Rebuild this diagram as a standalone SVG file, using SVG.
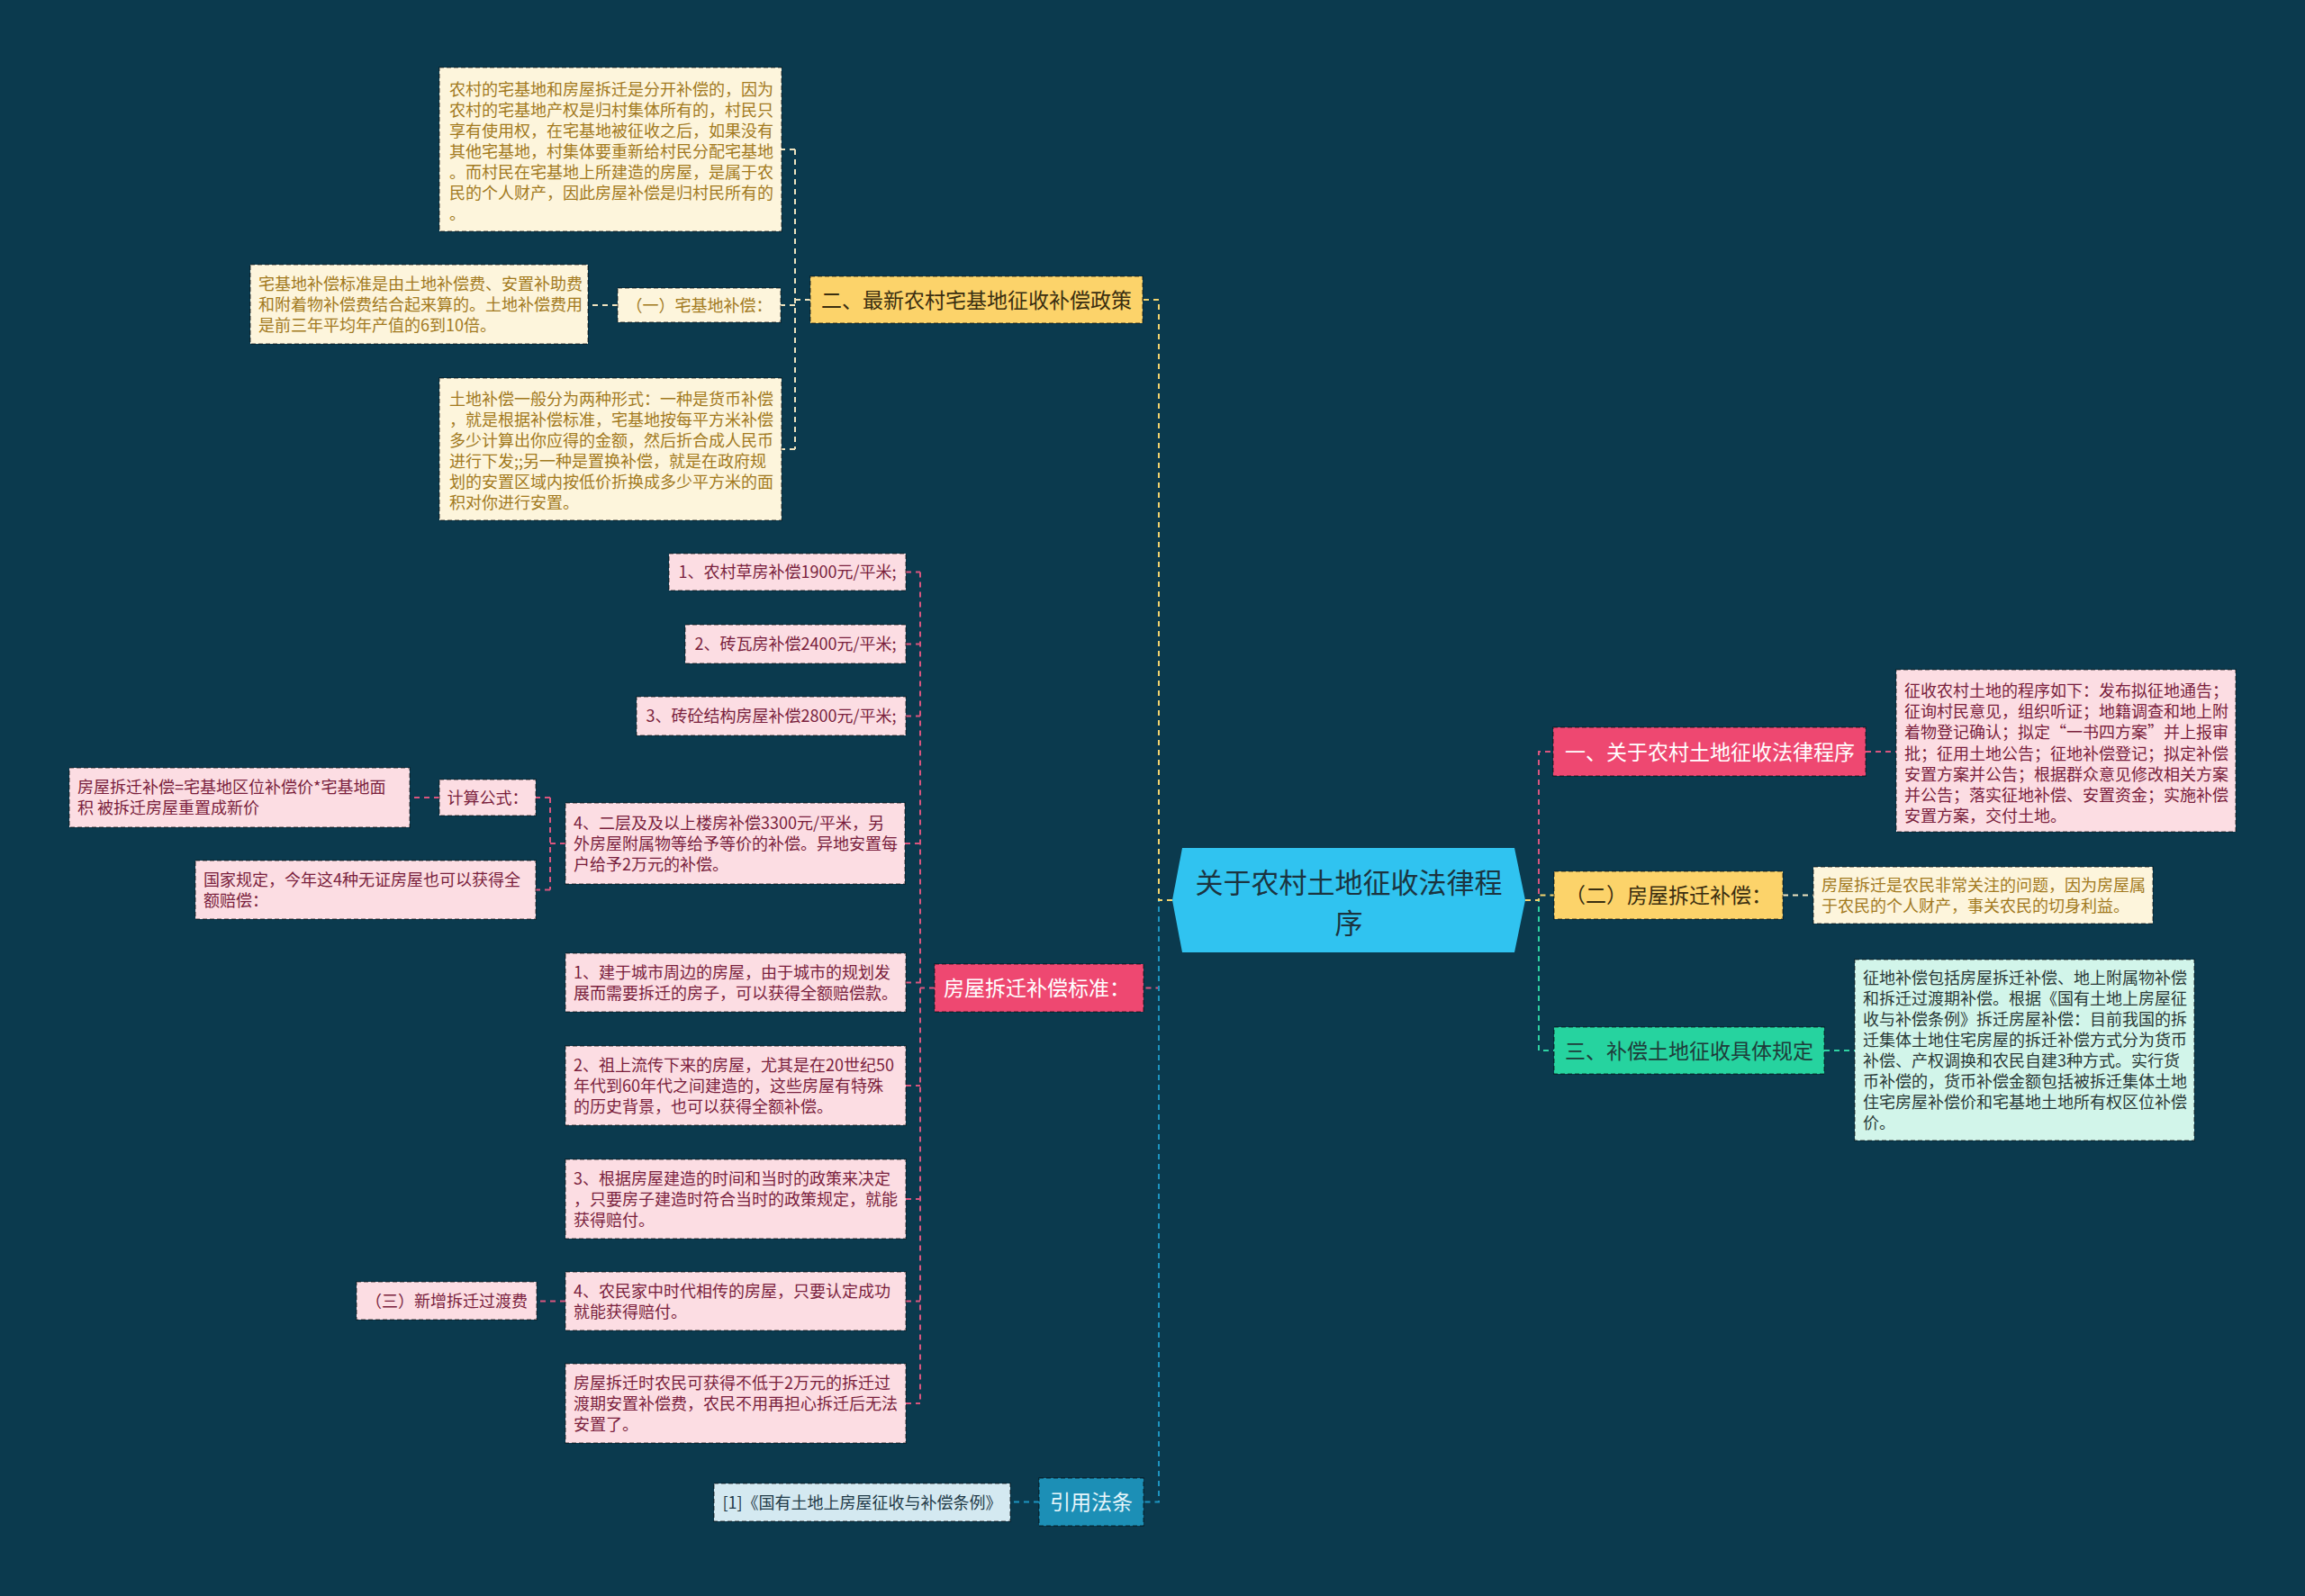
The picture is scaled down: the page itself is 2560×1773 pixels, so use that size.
<svg xmlns="http://www.w3.org/2000/svg" width="2560" height="1773" viewBox="0 0 2560 1773">
<style>
text{font-family:'Noto Sans CJK SC','Noto Sans',sans-serif}
.s{font-size:18px}
.b{font-size:23px}
.nd{stroke:rgba(0,0,0,0.45);stroke-width:1.5;stroke-dasharray:5 3}
.cr{fill:#fdf5dc}.crt{fill:#a27a1e}
.pk{fill:#fcdde3}.pkt{fill:#7a1f3d}
.mn{fill:#d2f5ea}.mnt{fill:#2a3a38}
.lb{fill:#d4e9f1}.lbt{fill:#1f3a48}
.by{fill:#fcd36a}.byt{fill:#3a2e10}
.br{fill:#ee4871}.brt{fill:#ffffff}
.bt{fill:#26d39f}.btt{fill:#1e3c3a}
.bb{fill:#1c8fb6}.bbt{fill:#e6f6fb}
.c{fill:none;stroke-width:2;stroke-dasharray:6 5}
.cy{stroke:#f3d36e}.cp{stroke:#d9557e}.cb{stroke:#1d93bf}.ct{stroke:#2fd3a3}.cc{stroke:#efe3bf}
</style>
<rect width="2560" height="1773" fill="#0b3a4e"/>

<g id="connectors">
  <path class="c cp" d="M1302 1000 H1287 V1097.5 H1270"/>
  <path class="c cb" d="M1302 1000 H1287 V1668.5 H1270"/>
  <path class="c cy" d="M1302 1000 H1287 V333 H1269"/>
  <path class="c cp" d="M1694 1000 H1709 V835 H1725"/>
  <path class="c ct" d="M1694 1000 H1709 V1167 H1726"/>
  <path class="c cy" d="M1694 1000 H1709 V994.5 H1726"/>
  <path class="c cp" d="M2072 835 H2106"/>
  <path class="c cc" d="M1980 994.5 H2014"/>
  <path class="c ct" d="M2026 1167 H2060"/>
  <path class="c cc" d="M900 333 H883 M883 166 V499 M883 166 H868 M883 339 H867 M883 499 H868"/>
  <path class="c cc" d="M686 339 H653"/>
  <path class="c cp" d="M1038 1097.5 H1022 M1022 635.5 V1559 M1006 635.5 H1022 M1006 715.5 H1022 M1006 795.5 H1022 M1005 937 H1022 M1006 1091.5 H1022 M1006 1206 H1022 M1006 1332 H1022 M1006 1445.5 H1022 M1006 1559 H1022"/>
  <path class="c cp" d="M628 937 H611 M611 886 V988.5 M611 886 H595 M611 988.5 H595"/>
  <path class="c cp" d="M488 886 H455"/>
  <path class="c cp" d="M628 1445.5 H596"/>
  <path class="c cb" d="M1154 1668.5 H1122"/>
</g>

<g id="center">
  <polygon points="1313,942 1682,942 1694,1000 1682,1058 1313,1058 1302,1000" fill="#30c3f0"/>
  <text x="1498" y="991.5" font-size="31" fill="#1b3440" text-anchor="middle">关于农村土地征收法律程</text>
  <text x="1498" y="1036.5" font-size="31" fill="#1b3440" text-anchor="middle">序</text>
</g>

<g id="b2">
  <rect class="by nd" x="900" y="307" width="369" height="52"/>
  <text class="b byt" x="1084.5" y="341.5" text-anchor="middle">二、最新农村宅基地征收补偿政策</text>
</g>
<g id="b2-top">
  <rect class="cr nd" x="488" y="75" width="380" height="182"/>
  <text class="s crt" x="499" y="106">
    <tspan x="499">农村的宅基地和房屋拆迁是分开补偿的，因为</tspan>
    <tspan x="499" dy="23">农村的宅基地产权是归村集体所有的，村民只</tspan>
    <tspan x="499" dy="23">享有使用权，在宅基地被征收之后，如果没有</tspan>
    <tspan x="499" dy="23">其他宅基地，村集体要重新给村民分配宅基地</tspan>
    <tspan x="499" dy="23">。而村民在宅基地上所建造的房屋，是属于农</tspan>
    <tspan x="499" dy="23">民的个人财产，因此房屋补偿是归村民所有的</tspan>
    <tspan x="499" dy="23">。</tspan>
  </text>
</g>
<g id="b2-yi">
  <rect class="cr nd" x="686" y="320" width="181" height="38"/>
  <text class="s crt" x="776.5" y="345.5" text-anchor="middle">（一）宅基地补偿：</text>
</g>
<g id="b2-yi-std">
  <rect class="cr nd" x="278" y="294" width="375" height="88"/>
  <text class="s crt" x="287" y="321.5">
    <tspan x="287">宅基地补偿标准是由土地补偿费、安置补助费</tspan>
    <tspan x="287" dy="23">和附着物补偿费结合起来算的。土地补偿费用</tspan>
    <tspan x="287" dy="23">是前三年平均年产值的6到10倍。</tspan>
  </text>
</g>
<g id="b2-bottom">
  <rect class="cr nd" x="488" y="420" width="380" height="158"/>
  <text class="s crt" x="499" y="449.5">
    <tspan x="499">土地补偿一般分为两种形式：一种是货币补偿</tspan>
    <tspan x="499" dy="23">，就是根据补偿标准，宅基地按每平方米补偿</tspan>
    <tspan x="499" dy="23">多少计算出你应得的金额，然后折合成人民币</tspan>
    <tspan x="499" dy="23">进行下发;;另一种是置换补偿，就是在政府规</tspan>
    <tspan x="499" dy="23">划的安置区域内按低价折换成多少平方米的面</tspan>
    <tspan x="499" dy="23">积对你进行安置。</tspan>
  </text>
</g>

<g id="bh">
  <rect class="br nd" x="1038" y="1071" width="232" height="53"/>
  <text class="b brt" x="1048" y="1106">房屋拆迁补偿标准：</text>
</g>
<g id="bh-a">
  <rect class="pk nd" x="743" y="615" width="263" height="41"/>
  <text class="s pkt" x="874.5" y="642" text-anchor="middle">1、农村草房补偿1900元/平米;</text>
</g>
<g id="bh-b">
  <rect class="pk nd" x="761" y="694" width="245" height="43"/>
  <text class="s pkt" x="883.5" y="722" text-anchor="middle">2、砖瓦房补偿2400元/平米;</text>
</g>
<g id="bh-c">
  <rect class="pk nd" x="707" y="774" width="299" height="43"/>
  <text class="s pkt" x="856.5" y="802" text-anchor="middle">3、砖砼结构房屋补偿2800元/平米;</text>
</g>
<g id="bh-d">
  <rect class="pk nd" x="628" y="892" width="377" height="90"/>
  <text class="s pkt" x="637" y="920.5">
    <tspan x="637">4、二层及及以上楼房补偿3300元/平米，另</tspan>
    <tspan x="637" dy="23">外房屋附属物等给予等价的补偿。异地安置每</tspan>
    <tspan x="637" dy="23">户给予2万元的补偿。</tspan>
  </text>
</g>
<g id="bh-d-formula">
  <rect class="pk nd" x="488" y="866" width="107" height="40"/>
  <text class="s pkt" x="541.5" y="892.5" text-anchor="middle">计算公式：</text>
</g>
<g id="bh-d-formula-text">
  <rect class="pk nd" x="77" y="853" width="378" height="66"/>
  <text class="s pkt" x="86" y="881">
    <tspan x="86">房屋拆迁补偿=宅基地区位补偿价*宅基地面</tspan>
    <tspan x="86" dy="23">积 被拆迁房屋重置成新价</tspan>
  </text>
</g>
<g id="bh-d-state">
  <rect class="pk nd" x="217" y="956" width="378" height="65"/>
  <text class="s pkt" x="226" y="983.5">
    <tspan x="226">国家规定，今年这4种无证房屋也可以获得全</tspan>
    <tspan x="226" dy="23">额赔偿：</tspan>
  </text>
</g>
<g id="bh-e">
  <rect class="pk nd" x="628" y="1059" width="378" height="65"/>
  <text class="s pkt" x="637" y="1086.5">
    <tspan x="637">1、建于城市周边的房屋，由于城市的规划发</tspan>
    <tspan x="637" dy="23">展而需要拆迁的房子，可以获得全额赔偿款。</tspan>
  </text>
</g>
<g id="bh-f">
  <rect class="pk nd" x="628" y="1162" width="378" height="88"/>
  <text class="s pkt" x="637" y="1189.5">
    <tspan x="637">2、祖上流传下来的房屋，尤其是在20世纪50</tspan>
    <tspan x="637" dy="23">年代到60年代之间建造的，这些房屋有特殊</tspan>
    <tspan x="637" dy="23">的历史背景，也可以获得全额补偿。</tspan>
  </text>
</g>
<g id="bh-g">
  <rect class="pk nd" x="628" y="1288" width="378" height="88"/>
  <text class="s pkt" x="637" y="1315.5">
    <tspan x="637">3、根据房屋建造的时间和当时的政策来决定</tspan>
    <tspan x="637" dy="23">，只要房子建造时符合当时的政策规定，就能</tspan>
    <tspan x="637" dy="23">获得赔付。</tspan>
  </text>
</g>
<g id="bh-h">
  <rect class="pk nd" x="628" y="1413" width="378" height="65"/>
  <text class="s pkt" x="637" y="1440.5">
    <tspan x="637">4、农民家中时代相传的房屋，只要认定成功</tspan>
    <tspan x="637" dy="23">就能获得赔付。</tspan>
  </text>
</g>
<g id="bh-h-fee">
  <rect class="pk nd" x="396" y="1424" width="200" height="42"/>
  <text class="s pkt" x="496" y="1451.5" text-anchor="middle">（三）新增拆迁过渡费</text>
</g>
<g id="bh-i">
  <rect class="pk nd" x="628" y="1515" width="378" height="88"/>
  <text class="s pkt" x="637" y="1542.5">
    <tspan x="637">房屋拆迁时农民可获得不低于2万元的拆迁过</tspan>
    <tspan x="637" dy="23">渡期安置补偿费，农民不用再担心拆迁后无法</tspan>
    <tspan x="637" dy="23">安置了。</tspan>
  </text>
</g>

<g id="bref">
  <rect class="bb nd" x="1154" y="1642" width="116" height="53"/>
  <text class="b bbt" x="1212" y="1677" text-anchor="middle">引用法条</text>
</g>
<g id="bref-1">
  <rect class="lb nd" x="793" y="1648" width="329" height="42"/>
  <text class="s lbt" x="957.5" y="1675.5" text-anchor="middle">[1]《国有土地上房屋征收与补偿条例》</text>
</g>

<g id="r1">
  <rect class="br nd" x="1725" y="808" width="347" height="54"/>
  <text class="b brt" x="1738" y="843.5">一、关于农村土地征收法律程序</text>
</g>
<g id="r1-text">
  <rect class="pk nd" x="2106" y="744" width="377" height="180"/>
  <text class="s pkt" x="2115" y="774">
    <tspan x="2115">征收农村土地的程序如下：发布拟征地通告；</tspan>
    <tspan x="2115" dy="23.2">征询村民意见，组织听证；地籍调查和地上附</tspan>
    <tspan x="2115" dy="23.2">着物登记确认；拟定“一书四方案”并上报审</tspan>
    <tspan x="2115" dy="23.2">批；征用土地公告；征地补偿登记；拟定补偿</tspan>
    <tspan x="2115" dy="23.2">安置方案并公告；根据群众意见修改相关方案</tspan>
    <tspan x="2115" dy="23.2">并公告；落实征地补偿、安置资金；实施补偿</tspan>
    <tspan x="2115" dy="23.2">安置方案，交付土地。</tspan>
  </text>
</g>
<g id="r2">
  <rect class="by nd" x="1726" y="968" width="254" height="53"/>
  <text class="b byt" x="1738" y="1003">（二）房屋拆迁补偿：</text>
</g>
<g id="r2-text">
  <rect class="cr nd" x="2014" y="963" width="377" height="63"/>
  <text class="s crt" x="2023" y="989.5">
    <tspan x="2023">房屋拆迁是农民非常关注的问题，因为房屋属</tspan>
    <tspan x="2023" dy="23">于农民的个人财产，事关农民的切身利益。</tspan>
  </text>
</g>
<g id="r3">
  <rect class="bt nd" x="1726" y="1141" width="300" height="52"/>
  <text class="b btt" x="1738" y="1175.5">三、补偿土地征收具体规定</text>
</g>
<g id="r3-text">
  <rect class="mn nd" x="2060" y="1066" width="377" height="201"/>
  <text class="s mnt" x="2069" y="1092.5">
    <tspan x="2069">征地补偿包括房屋拆迁补偿、地上附属物补偿</tspan>
    <tspan x="2069" dy="23">和拆迁过渡期补偿。根据《国有土地上房屋征</tspan>
    <tspan x="2069" dy="23">收与补偿条例》拆迁房屋补偿：目前我国的拆</tspan>
    <tspan x="2069" dy="23">迁集体土地住宅房屋的拆迁补偿方式分为货币</tspan>
    <tspan x="2069" dy="23">补偿、产权调换和农民自建3种方式。实行货</tspan>
    <tspan x="2069" dy="23">币补偿的，货币补偿金额包括被拆迁集体土地</tspan>
    <tspan x="2069" dy="23">住宅房屋补偿价和宅基地土地所有权区位补偿</tspan>
    <tspan x="2069" dy="23">价。</tspan>
  </text>
</g>
</svg>
